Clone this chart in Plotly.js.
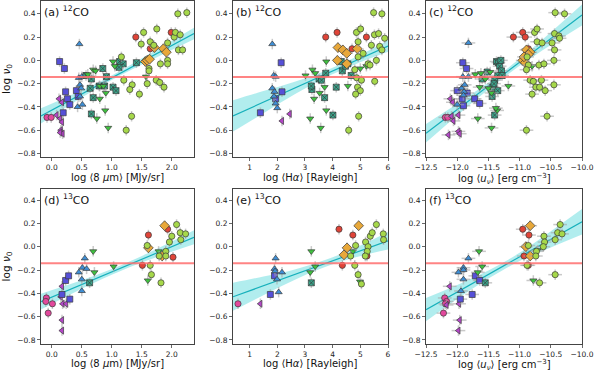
<!DOCTYPE html>
<html><head><meta charset="utf-8">
<script src="https://cdn.plot.ly/plotly-3.0.1.min.js"></script>
<style>html,body{margin:0;padding:0;background:#fff}#chart{width:598px;height:371px}</style>
</head><body><div id="chart"></div>
<script>
// group codes
const groups = ['M','P','B','L','T','G','R','O','Y'];
const panelLabels = ['(a) <sup>12</sup>CO','(b) <sup>12</sup>CO','(c) <sup>12</sup>CO','(d) <sup>13</sup>CO','(e) <sup>13</sup>CO','(f) <sup>13</sup>CO'];
const xTitles = ['log ⟨8 <i>μ</i>m⟩ [MJy/sr]','log ⟨H<i>α</i>⟩ [Rayleigh]','log ⟨<i>u</i><sub><i>ν</i></sub>⟩ [erg cm<sup>−3</sup>]'];
const yTitle = 'log <i>ν</i><sub>0</sub>';
const threshold = -0.143;

// ---- panel (a) 12CO vs 8um
const aX = [-0.08,-0.01,
 0.12,0.17,0.08,0.14,0.17,0.15,0.18,0.14,
 0.13,0.21,0.23,0.26,0.30,0.19,0.41,0.44,
 0.46,0.45,0.50,0.47,0.49,0.43,0.51,0.47,
 0.57,0.66,0.64,0.69,0.66,0.85,0.91,1.02,1.07,1.13,1.19,1.12,1.41,0.79,0.88,
 0.69,0.73,1.02,1.05,0.80,0.86,0.90,0.80,0.89,0.75,0.94,1.57,0.60,
 1.40,1.64,1.99,
 1.56,1.59,1.71,1.86,1.91,1.63,
 2.10,2.25,1.53,1.75,1.49,1.64,1.70,1.93,2.04,2.06,2.14,2.11,2.18,1.81,1.93,1.93,1.62,1.62,1.74,1.80,1.87,1.59,1.34,1.30,1.46,1.16,1.20,1.33,1.24];
const aY = [-0.49,-0.49,
 -0.33,-0.36,-0.47,-0.50,-0.53,-0.60,-0.63,-0.62,
 -0.01,-0.07,-0.27,-0.33,-0.38,-0.45,-0.26,-0.31,
 0.14,-0.15,-0.14,-0.21,-0.24,-0.40,-0.38,-0.31,
 -0.13,-0.16,-0.24,-0.32,-0.46,-0.07,-0.14,-0.23,-0.26,-0.01,-0.03,-0.06,-0.02,-0.22,-0.22,
 -0.08,-0.09,-0.01,-0.05,-0.22,-0.22,-0.28,-0.33,-0.43,-0.50,-0.58,-0.14,-0.12,
 0.20,0.10,0.24,
 -0.01,0.00,0.11,0.10,0.07,0.01,
 0.40,0.41,0.24,0.27,0.14,0.16,0.13,0.15,0.20,0.24,0.22,0.09,0.09,-0.03,0.00,-0.03,-0.07,-0.09,-0.17,-0.19,-0.23,-0.20,-0.21,-0.25,-0.29,0.03,-0.17,-0.48,-0.60];
const aG = ['M','M',
 'P','P','P','P','P','P','P','P',
 'B','B','B','B','B','B','B','B',
 'L','L','L','L','L','L','L','L',
 'T','T','T','T','T','T','T','T','T','T','T','T','T','T','T',
 'G','G','G','G','G','G','G','G','G','G','G','G','G',
 'R','R','R',
 'O','O','O','O','O','O',
 'Y','Y','Y','Y','Y','Y','Y','Y','Y','Y','Y','Y','Y','Y','Y','Y','Y','Y','Y','Y','Y','Y','Y','Y','Y','Y','Y','Y','Y'];

// ---- panel (b) 12CO vs Halpha
const bX = [1.82,1.87,1.94,1.82,1.90,1.94,2.00,1.88,
 2.14,2.17,1.94,1.39,
 2.17,2.45,
 3.02,3.27,3.37,3.77,3.19,3.57,3.33,3.53,3.77,4.55,5.00,5.22,3.71,
 3.25,3.23,3.51,3.75,3.71,4.01,4.13,4.31,4.35,4.46,4.55,4.67,3.60,
 3.75,4.16,4.70,5.22,
 4.19,4.37,4.51,4.89,4.17,4.51,
 5.48,5.78,4.86,5.01,5.51,5.66,5.88,4.92,5.40,5.70,5.78,4.92,5.28,5.58,4.80,4.87,5.04,5.52,4.90,5.00,4.83,4.94,4.58,5.10,5.35];
const bY = [0.14,-0.13,-0.14,-0.24,-0.27,-0.37,-0.41,-0.31,
 -0.02,-0.27,-0.33,-0.45,
 -0.52,-0.46,
 -0.13,-0.08,-0.11,-0.01,-0.50,-0.58,-0.33,-0.28,-0.43,-0.22,-0.07,-0.05,-0.23,
 -0.25,-0.22,-0.16,-0.11,-0.32,-0.47,-0.23,-0.01,-0.09,-0.05,-0.03,-0.13,-0.17,
 0.20,0.24,0.10,0.20,
 0.11,0.09,0.06,0.10,0.00,-0.03,
 0.41,0.40,0.24,0.27,0.22,0.23,0.19,0.16,0.13,0.12,0.09,0.03,-0.03,0.00,-0.08,-0.15,-0.17,-0.18,-0.23,-0.26,-0.29,-0.48,-0.60,0.06,-0.04];
const bG = ['L','L','L','L','L','L','L','L',
 'B','B','B','B',
 'P','P',
 'G','G','G','G','G','G','G','G','G','G','G','G','G',
 'T','T','T','T','T','T','T','T','T','T','T','T','T',
 'R','R','R','R',
 'O','O','O','O','O','O',
 'Y','Y','Y','Y','Y','Y','Y','Y','Y','Y','Y','Y','Y','Y','Y','Y','Y','Y','Y','Y','Y','Y','Y','Y','Y'];

// ---- panel (c) 12CO vs u_nu
const cX = [-12.19,-12.15,
 -12.11,-12.07,-12.09,-12.06,-12.14,-11.98,-11.96,-11.98,
 -11.91,-11.85,-12.00,-11.84,-11.92,-11.90,-11.72,-11.64,
 -11.82,-11.91,-11.82,-11.93,-11.89,-11.90,-12.00,-11.88,
 -11.71,-11.62,-11.47,-11.67,-11.45,-11.36,-11.50,-11.18,-11.64,-11.45,-10.80,-11.55,-11.38,
 -11.60,-11.37,-11.34,-11.32,-11.29,-11.35,-11.40,-11.43,-11.35,-11.44,-11.40,-11.28,-11.41,-11.30,-11.52,
 -11.10,-10.95,-10.91,-10.86,
 -10.89,-10.83,-10.86,-10.95,-10.91,-10.93,
 -10.43,-10.28,-10.76,-10.72,-10.44,-10.37,-10.36,-10.88,-10.72,-10.64,-10.48,-10.44,-10.86,-10.69,-10.61,-10.45,-10.89,-10.83,-10.74,-10.65,-10.68,-10.45,-10.59,-10.80,-10.56,-10.89,-10.78];
const cY = [-0.49,-0.49,
 -0.33,-0.36,-0.48,-0.52,-0.64,-0.61,-0.63,-0.47,
 -0.02,-0.07,-0.26,-0.28,-0.33,-0.39,-0.33,-0.37,
 0.15,-0.14,-0.14,-0.24,-0.27,-0.30,-0.38,-0.21,
 -0.12,-0.11,-0.10,-0.50,-0.58,-0.43,-0.24,-0.22,-0.23,-0.28,-0.05,-0.16,-0.41,
 -0.16,-0.01,-0.02,-0.05,-0.09,-0.13,-0.17,-0.23,-0.26,-0.31,-0.47,-0.13,-0.20,0.00,-0.10,
 0.20,0.24,0.20,0.10,
 0.09,0.07,0.05,0.00,-0.02,0.03,
 0.41,0.40,0.24,0.27,0.23,0.21,0.19,0.03,0.16,0.15,0.15,0.09,-0.04,-0.04,-0.03,0.00,-0.08,-0.17,-0.23,-0.17,-0.23,-0.21,-0.26,-0.29,-0.48,-0.60,-0.18];
const cG = ['M','M',
 'P','P','P','P','P','P','P','P',
 'B','B','B','B','B','B','B','B',
 'L','L','L','L','L','L','L','L',
 'G','G','G','G','G','G','G','G','G','G','G','G','G',
 'T','T','T','T','T','T','T','T','T','T','T','T','T','T','T',
 'R','R','R','R',
 'O','O','O','O','O','O',
 'Y','Y','Y','Y','Y','Y','Y','Y','Y','Y','Y','Y','Y','Y','Y','Y','Y','Y','Y','Y','Y','Y','Y','Y','Y','Y','Y'];

// ---- panel (d) 13CO vs 8um
const dX = [-0.09,-0.10,-0.06,0.01,
 0.17,0.15,0.18,0.24,0.17,0.17,
 0.23,0.28,0.17,0.30,
 0.55,0.45,0.51,0.58,0.50,0.50,
 0.63,
 0.69,0.71,1.03,1.60,1.78,
 1.51,1.61,1.93,2.02,
 1.61,1.88,1.84,
 1.59,1.64,1.66,1.82,1.79,1.90,1.90,1.96,2.00,2.08,2.14,2.15,2.23];
const dY = [-0.44,-0.47,-0.57,-0.49,
 -0.34,-0.43,-0.49,-0.49,-0.63,-0.72,
 -0.29,-0.25,-0.41,-0.45,
 -0.10,-0.22,-0.18,-0.19,-0.28,-0.38,
 -0.31,
 -0.04,-0.22,-0.17,-0.29,-0.04,
 -0.16,0.10,0.15,-0.09,
 -0.01,0.18,-0.08,
 0.01,-0.16,-0.24,-0.31,-0.08,-0.04,-0.08,0.04,0.09,0.19,0.12,0.06,0.11];
const dG = ['M','M','M','M',
 'P','P','P','P','P','P',
 'B','B','B','B',
 'L','L','L','L','L','L',
 'T',
 'G','G','G','G','G',
 'R','R','R','R',
 'O','O','O',
 'Y','Y','Y','Y','Y','Y','Y','Y','Y','Y','Y','Y','Y'];

// ---- panel (e) 13CO vs Halpha
const eX = [0.58,
 1.39,
 1.75,1.90,
 1.94,1.90,1.92,1.99,2.05,2.17,
 3.23,
 3.23,3.19,3.37,4.73,4.99,
 4.23,4.35,4.73,5.24,
 4.41,4.52,4.94,
 4.65,4.83,4.80,4.92,5.04,5.19,5.28,5.25,5.18,5.36,5.43,5.58,5.83,5.84];
const eY = [-0.49,
 -0.49,
 -0.41,-0.25,
 -0.10,-0.19,-0.21,-0.28,-0.39,-0.22,
 -0.31,
 -0.04,-0.22,-0.17,-0.04,-0.30,
 0.15,-0.16,0.10,-0.08,
 -0.07,-0.01,0.18,
 -0.08,0.01,-0.16,-0.24,-0.32,0.04,0.00,-0.04,-0.08,0.09,0.12,0.19,0.11,0.06];
const eG = ['M',
 'P',
 'B','B',
 'L','L','L','L','L','L',
 'T',
 'G','G','G','G','G',
 'R','R','R','R',
 'O','O','O',
 'Y','Y','Y','Y','Y','Y','Y','Y','Y','Y','Y','Y','Y','Y'];

// ---- panel (f) 13CO vs u_nu
const fX = [-12.22,-12.20,-12.17,-12.19,
 -12.12,-11.97,-11.96,-11.98,-12.17,
 -11.95,-11.76,-11.71,-11.64,
 -11.82,-11.90,-11.90,-11.98,-11.90,-11.94,
 -11.55,
 -11.65,-11.67,-11.60,-10.78,-10.71,
 -10.95,-10.85,-10.93,-10.86,
 -10.83,-10.90,-10.83,
 -10.86,-10.73,-10.74,-10.68,-10.61,-10.60,-10.62,-10.43,-10.43,-10.35,-10.39,-10.32,-10.88];
const fY = [-0.57,-0.44,-0.47,-0.49,
 -0.34,-0.49,-0.63,-0.72,-0.50,
 -0.45,-0.41,-0.25,-0.29,
 -0.10,-0.18,-0.20,-0.22,-0.28,-0.38,
 -0.31,
 -0.04,-0.22,-0.17,-0.29,-0.03,
 0.15,0.10,-0.08,-0.16,
 0.18,0.00,-0.08,
 0.01,-0.04,-0.08,-0.31,0.09,0.04,0.00,0.06,-0.24,0.19,0.12,0.11,-0.16];
const fG = ['M','M','M','M',
 'P','P','P','P','P',
 'B','B','B','B',
 'L','L','L','L','L','L',
 'T',
 'G','G','G','G','G',
 'R','R','R','R',
 'O','O','O',
 'Y','Y','Y','Y','Y','Y','Y','Y','Y','Y','Y','Y','Y'];

// ---- fit lines (endpoints)
const fitAX = [-0.18, 2.37],  fitAY = [-0.477, 0.231];
const fitBX = [0.4, 6.0],     fitBY = [-0.477, 0.123];
const fitCX = [-12.5, -10.0], fitCY = [-0.626, 0.39];
const fitDX = [-0.18, 2.37],  fitDY = [-0.471, 0.08];
const fitEX = [0.4, 6.0],     fitEY = [-0.43, 0.05];
const fitFX = [-12.5, -10.0], fitFY = [-0.54, 0.214];

// ---- confidence bands
const bandAX = [-0.18,0.4,1.0,1.6,2.37];
const bandALo = [-0.542,-0.351,-0.169,-0.012,0.181];
const bandAHi = [-0.412,-0.281,-0.129,0.048,0.281];
const bandBX = [0.4,1.5,2.6,3.7,4.8,6.0];
const bandBLo = [-0.612,-0.454,-0.296,-0.154,-0.036,0.073];
const bandBHi = [-0.342,-0.264,-0.186,-0.094,0.024,0.173];
const bandCX = [-12.5,-12.0,-11.5,-11.0,-10.5,-10.0];
const bandCLo = [-0.706,-0.473,-0.25,-0.047,0.132,0.30];
const bandCHi = [-0.546,-0.373,-0.19,0.013,0.242,0.48];
const bandDX = [-0.18,0.4,1.0,1.6,2.37];
const bandDLo = [-0.539,-0.386,-0.241,-0.117,0.02];
const bandDHi = [-0.403,-0.306,-0.191,-0.057,0.14];
const bandEX = [0.4,1.5,2.6,3.7,4.8,6.0];
const bandELo = [-0.55,-0.416,-0.287,-0.177,-0.093,-0.025];
const bandEHi = [-0.31,-0.256,-0.197,-0.117,-0.013,0.125];
const bandFX = [-12.5,-12.0,-11.5,-11.0,-10.5,-10.0];
const bandFLo = [-0.64,-0.449,-0.274,-0.123,-0.007,0.104];
const bandFHi = [-0.44,-0.329,-0.204,-0.053,0.133,0.324];

// ---- styles
const style = {
  M:{symbol:'circle', color:'#e2489c', size:6.2},
  P:{symbol:'triangle-left', color:'#b446c8', size:6.2},
  B:{symbol:'square', color:'#5650d8', size:6},
  L:{symbol:'triangle-up', color:'#3f8fd6', size:6.2},
  T:{symbol:'square-x', color:'#3aa68c', size:6},
  G:{symbol:'triangle-down', color:'#3fc23f', size:6.2},
  R:{symbol:'circle', color:'#e04438', size:6.2},
  O:{symbol:'diamond', color:'#e8a83a', size:7.5},
  Y:{symbol:'circle', color:'#a6d84a', size:6.2}
};

const traces = [];
function addPanel(n, xs, ys, gs, bx, blo, bhi, lx, ly, hasXerr) {
  const xa = 'x' + (n === 1 ? '' : n), ya = 'y' + (n === 1 ? '' : n);
  traces.push({x:bx, y:blo, xaxis:xa, yaxis:ya, mode:'lines', line:{width:0, shape:'spline', color:'rgba(0,0,0,0)'}, hoverinfo:'skip'});
  traces.push({x:bx, y:bhi, xaxis:xa, yaxis:ya, mode:'lines', fill:'tonexty', fillcolor:'rgba(70,212,214,0.42)', line:{width:0, shape:'spline', color:'rgba(0,0,0,0)'}, hoverinfo:'skip'});
  traces.push({x:lx, y:ly, xaxis:xa, yaxis:ya, mode:'lines', line:{color:'#16b0bb', width:1.2}});
  groups.forEach(g => {
    const px = [], py = [];
    gs.forEach((c, i) => { if (c === g) { px.push(xs[i]); py.push(ys[i]); } });
    if (!px.length) return;
    const s = style[g];
    const t = {x:px, y:py, xaxis:xa, yaxis:ya, mode:'markers',
      marker:{symbol:s.symbol, color:s.color, size:s.size, line:{color:'#3a3a3a', width:0.7}},
      error_y:{type:'constant', value:0.045, color:'rgba(165,165,165,0.6)', thickness:1.5, width:0}};
    if (hasXerr) t.error_x = {type:'constant', value:0.11, color:'rgba(165,165,165,0.6)', thickness:1.5, width:0};
    traces.push(t);
  });
}
addPanel(1, aX, aY, aG, bandAX, bandALo, bandAHi, fitAX, fitAY, false);
addPanel(2, bX, bY, bG, bandBX, bandBLo, bandBHi, fitBX, fitBY, false);
addPanel(3, cX, cY, cG, bandCX, bandCLo, bandCHi, fitCX, fitCY, true);
addPanel(4, dX, dY, dG, bandDX, bandDLo, bandDHi, fitDX, fitDY, false);
addPanel(5, eX, eY, eG, bandEX, bandELo, bandEHi, fitEX, fitEY, false);
addPanel(6, fX, fY, fG, bandFX, bandFLo, bandFHi, fitFX, fitFY, true);

const W = 598, H = 371;
const colDom = [[41/W, 194/W], [233/W, 388/W], [426/W, 582/W]];
const rowDom = [[1-157/H, 1-1/H], [1-344/H, 1-189/H]];
const xRanges = [[-0.18, 2.37], [0.4, 6.0], [-12.5, -10.0]];
const xDticks = [0.5, 1, 0.5];
const xFormats = ['.1f', 'd', '.1f'];
const yRanges = [[-0.83, 0.51], [-0.835, 0.495]];
const xTitleTop = [1 - 170/H, 1 - 355.5/H];

const fontFam = 'DejaVu Sans, sans-serif';
const layout = {width:W, height:H, margin:{l:0, r:0, t:0, b:0}, showlegend:false,
  paper_bgcolor:'#fff', plot_bgcolor:'#fff', font:{family:fontFam, color:'#222'},
  annotations:[], shapes:[]};
const axBase = {showline:true, mirror:true, linecolor:'#444', linewidth:1, ticks:'outside', ticklen:3,
  tickwidth:0.8, tickcolor:'#444', showgrid:false, zeroline:false,
  tickfont:{size:7.5, family:fontFam, color:'#222'}};
for (let n = 1; n <= 6; n++) {
  const r = n <= 3 ? 0 : 1, c = (n - 1) % 3;
  const sfx = n === 1 ? '' : n;
  layout['xaxis' + sfx] = Object.assign({}, axBase, {domain:colDom[c], anchor:'y' + sfx, range:xRanges[c],
    dtick:xDticks[c], tick0:0, tickformat:xFormats[c]});
  const yax = Object.assign({}, axBase, {domain:rowDom[r], anchor:'x' + sfx, range:yRanges[r],
    dtick:0.2, tick0:0, tickformat:'.1f'});
  if (c === 0) yax.title = {text:yTitle, font:{size:10.5, family:fontFam, color:'#111'}, standoff:4};
  layout['yaxis' + sfx] = yax;
  layout.annotations.push({text:xTitles[c], xref:'x' + sfx + ' domain', yref:'paper', x:0.5, y:xTitleTop[r],
    xanchor:'center', yanchor:'top', showarrow:false, font:{size:10, family:fontFam, color:'#111'}});
  layout.annotations.push({text:panelLabels[n - 1], xref:'x' + sfx + ' domain', yref:'y' + sfx + ' domain',
    x:0.005, y:0.995, xanchor:'left', yanchor:'top', showarrow:false, font:{size:11, family:fontFam, color:'#111'}});
  layout.shapes.push({type:'line', xref:'x' + sfx + ' domain', yref:'y' + sfx, x0:0, x1:1, y0:threshold, y1:threshold,
    line:{color:'rgba(255,110,110,0.85)', width:2}, layer:'above'});
}
Plotly.newPlot('chart', traces, layout, {staticPlot:true, displayModeBar:false});
</script>
</body></html>
